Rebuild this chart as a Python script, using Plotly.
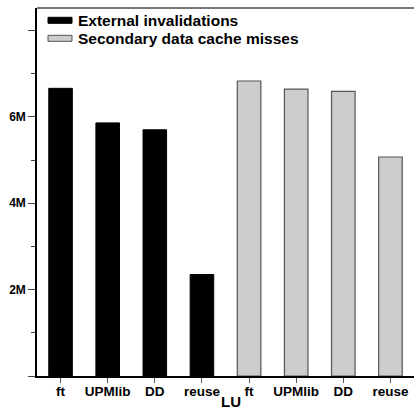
import plotly.graph_objects as go

categories = ["ft", "UPMlib", "DD", "reuse"]
external_invalidations = [6.66e6, 5.86e6, 5.70e6, 2.35e6]
secondary_cache_misses = [6.83e6, 6.64e6, 6.59e6, 5.07e6]
series_names = ["External invalidations", "Secondary data cache misses"]
major_ticks = [0, 2e6, 4e6, 6e6, 8e6]
major_labels = ["", "2M", "4M", "6M", ""]
minor_ticks = [1e6, 3e6, 5e6, 7e6]
group_title = "LU"

n = len(categories)
x1 = list(range(n))
x2 = list(range(n, 2 * n))

fig = go.Figure()
fig.add_trace(go.Bar(x=x1, y=external_invalidations, name=series_names[0],
                     marker=dict(color="black", line=dict(color="black", width=1)),
                     width=0.5, showlegend=False))
fig.add_trace(go.Bar(x=x2, y=secondary_cache_misses, name=series_names[1],
                     marker=dict(color="#cccccc", line=dict(color="#555555", width=1.2)),
                     width=0.5, showlegend=False))

font = "Liberation Sans, Arial, sans-serif"
H = 368.0
W = 377.0
fig.update_layout(
    width=414, height=410,
    margin=dict(l=37, r=0, t=8, b=34),
    paper_bgcolor="white", plot_bgcolor="white",
    font=dict(family=font, color="black"),
    bargap=0.5,
    xaxis=dict(range=[-0.5, 2 * n - 0.5], tickvals=x1 + x2,
               ticktext=["<b>%s</b>" % c for c in categories * 2],
               ticks="outside", ticklen=5, tickcolor="#555555", tickwidth=1,
               showline=True, linecolor="black", linewidth=1.5,
               tickfont=dict(size=13.5, family=font), showgrid=False, zeroline=False,
               ticklabelstandoff=-3),
    yaxis=dict(range=[0, 8.52e6], tickvals=major_ticks, ticktext=["<b>%s</b>" % t for t in major_labels],
               ticks="outside", ticklen=7, tickcolor="#444444", tickwidth=1,
               minor=dict(tickvals=minor_ticks, ticks="outside", ticklen=4, tickcolor="#444444"),
               showline=True, linecolor="black", linewidth=1.5,
               tickfont=dict(size=12, family=font), showgrid=False, zeroline=False),
)

# group title below tick labels
fig.add_annotation(xref="paper", yref="paper", x=(231 - 37) / W, y=-(410 - 376) / H,
                   text="<b>" + group_title + "</b>", showarrow=False,
                   xanchor="center", yanchor="bottom", yshift=-2,
                   font=dict(size=15, family=font, color="black"))

# top frame line
fig.add_shape(type="line", xref="paper", yref="paper", x0=0, x1=1, y0=1, y1=1,
              line=dict(color="#777777", width=2))

# legend drawn manually
leg = [("black", "black", 20.3), ("#cccccc", "#555555", 38.3)]
for (fc, lc, yc), name in zip(leg, series_names):
    y_top = 1 - (yc - 3 - 8) / H
    y_bot = 1 - (yc + 3 - 8) / H
    fig.add_shape(type="rect", xref="paper", yref="paper",
                  x0=(48 - 37) / W, x1=(72 - 37) / W, y0=y_bot, y1=y_top,
                  fillcolor=fc, line=dict(color=lc, width=1))
    fig.add_annotation(xref="paper", yref="paper", x=(76 - 37) / W, y=1 - (yc - 8) / H,
                       text="<b>" + name + "</b>", showarrow=False, xanchor="left", yanchor="middle",
                       font=dict(size=15.5, family=font, color="black"))

fig.write_html("out.html")
